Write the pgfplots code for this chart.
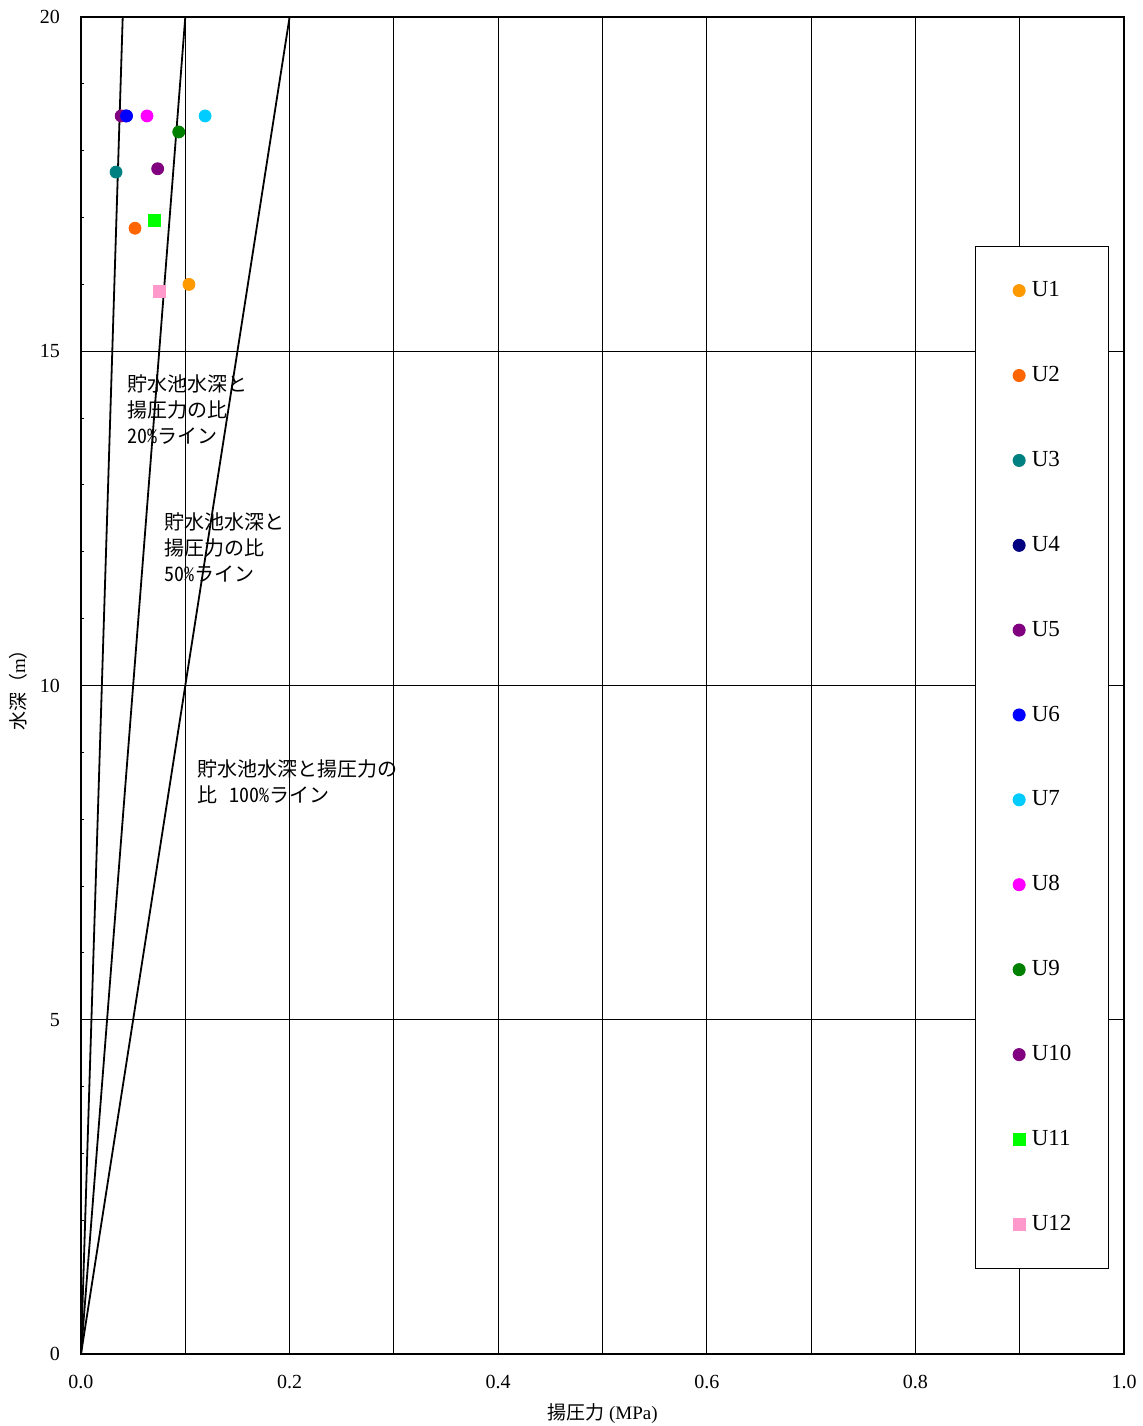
\documentclass[border=0pt]{standalone}
\usepackage{pgfplots}
\pgfplotsset{compat=1.18}
\usepackage{fontspec}
\setmainfont{Liberation Serif}
\newfontfamily\jp{Noto Sans CJK JP}
\newfontfamily\jphw[RawFeature=+hwid]{Noto Sans CJK JP}
\definecolor{cU1}{RGB}{255,153,0}
\definecolor{cU2}{RGB}{255,102,0}
\definecolor{cU3}{RGB}{0,128,128}
\definecolor{cU4}{RGB}{0,0,128}
\definecolor{cU5}{RGB}{128,0,128}
\definecolor{cU6}{RGB}{0,0,255}
\definecolor{cU7}{RGB}{0,204,255}
\definecolor{cU8}{RGB}{255,0,255}
\definecolor{cU9}{RGB}{0,128,0}
\definecolor{cU10}{RGB}{128,0,128}
\definecolor{cU11}{RGB}{0,255,0}
\definecolor{cU12}{RGB}{255,153,204}
\begin{document}
\begin{tikzpicture}
\begin{axis}[
  scale only axis, width=521.5pt, height=668.5pt,
  xmin=0, xmax=1, ymin=0, ymax=20,
  xtick={0,0.2,0.4,0.6,0.8,1.0},
  minor xtick={0.1,0.3,0.5,0.7,0.9},
  ytick={0,5,10,15,20},
  minor ytick={1,2,3,4,6,7,8,9,11,12,13,14,16,17,18,19},
  xmajorgrids, xminorgrids, ymajorgrids,
  grid style={black, line width=0.5pt},
  minor grid style={black, line width=0.5pt},
  axis line style={line width=0.6pt},
  tick align=inside, xtick pos=bottom, ytick pos=left,
  major tick length=0pt, minor tick length=1.6pt,
  tick style={black, line width=0.5pt},
  /pgf/number format/assume math mode=true,
  xticklabel style={font=\fontsize{10pt}{12pt}\selectfont, /pgf/number format/fixed, /pgf/number format/fixed zerofill, /pgf/number format/precision=1, yshift=-7pt},
  yticklabel style={font=\fontsize{10pt}{12pt}\selectfont, xshift=-7pt},
  xlabel={{\jp 揚圧力} (MPa)},
  xlabel style={at={(axis description cs:0.5,-0.0445)}, anchor=center, font=\fontsize{9.5pt}{11pt}\selectfont},
  ylabel={{\jp 水深（}m{\jp ）}},
  ylabel style={at={(axis description cs:-0.0604,0.5)}, anchor=center, font=\fontsize{9.5pt}{11pt}\selectfont},
  legend style={at={(0.8572,0.8287)}, anchor=north west, draw=black, line width=0.5pt, fill=white,
    font=\fontsize{11.5pt}{13pt}\selectfont, inner xsep=18.8pt, inner ysep=17.5pt,
    row sep=33.35pt, column sep=3.3pt, nodes={inner sep=0pt}},
  legend cell align=left,
  legend image code/.code={\draw[#1] plot coordinates {(0pt,0pt)};},
]
\addplot[black, line width=0.9pt, forget plot] coordinates {(0,0) (0.04,20)};
\addplot[black, line width=0.9pt, forget plot] coordinates {(0,0) (0.1,20)};
\addplot[black, line width=0.9pt, forget plot] coordinates {(0,0) (0.2,20)};

\addplot[only marks, mark=*, mark size=3pt, color=cU1] coordinates {(0.1035,16.00)};
\addlegendentry{U1}
\addplot[only marks, mark=*, mark size=3pt, color=cU2] coordinates {(0.0518,16.84)};
\addlegendentry{U2}
\addplot[only marks, mark=*, mark size=3pt, color=cU3] coordinates {(0.0336,17.68)};
\addlegendentry{U3}
\addplot[only marks, mark=*, mark size=3pt, color=cU4] coordinates {(0.0430,18.52)};
\addlegendentry{U4}
\addplot[only marks, mark=*, mark size=3pt, color=cU5] coordinates {(0.0385,18.52)};
\addlegendentry{U5}
\addplot[only marks, mark=*, mark size=3pt, color=cU6] coordinates {(0.0437,18.52)};
\addlegendentry{U6}
\addplot[only marks, mark=*, mark size=3pt, color=cU7] coordinates {(0.1190,18.52)};
\addlegendentry{U7}
\addplot[only marks, mark=*, mark size=3pt, color=cU8] coordinates {(0.0633,18.52)};
\addlegendentry{U8}
\addplot[only marks, mark=*, mark size=3pt, color=cU9] coordinates {(0.0937,18.28)};
\addlegendentry{U9}
\addplot[only marks, mark=*, mark size=3pt, color=cU10] coordinates {(0.0735,17.73)};
\addlegendentry{U10}
\addplot[only marks, mark=square*, mark size=3pt, color=cU11] coordinates {(0.0703,16.95)};
\addlegendentry{U11}
\addplot[only marks, mark=square*, mark size=3pt, color=cU12] coordinates {(0.0754,15.90)};
\addlegendentry{U12}

\node[anchor=north west, inner sep=0pt, align=left, font=\jp\fontsize{10pt}{13pt}\selectfont] at (axis cs:0.0441,14.66) {貯水池水深と\\揚圧力の比\\{\jphw 20\%}ライン};
\node[anchor=north west, inner sep=0pt, align=left, font=\jp\fontsize{10pt}{13pt}\selectfont] at (axis cs:0.0796,12.59) {貯水池水深と\\揚圧力の比\\{\jphw 50\%}ライン};
\node[anchor=north west, inner sep=0pt, align=left, font=\jp\fontsize{10pt}{13pt}\selectfont] at (axis cs:0.1112,8.89) {貯水池水深と揚圧力の\\比\hspace*{6pt}{\jphw 100\%}ライン};
\end{axis}
\pgfresetboundingbox
\path (current axis.south west) ++(-40.5pt,-36pt) rectangle ([shift={(9pt,8.5pt)}]current axis.north east);
\end{tikzpicture}
\end{document}
